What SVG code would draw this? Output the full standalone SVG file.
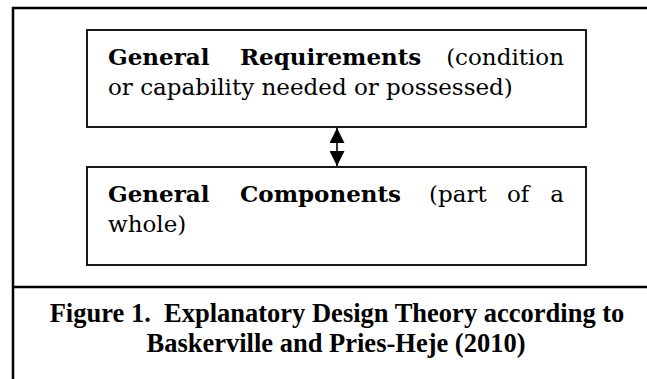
<svg xmlns="http://www.w3.org/2000/svg" width="647" height="379" viewBox="0 0 647 379">
<style>
.frame{fill:none;stroke:#000;stroke-width:2.5}
.box{fill:#fff;stroke:#000;stroke-width:1.8}
.b{font-family:"DejaVu Serif",Georgia,serif;font-size:23px;font-weight:bold;fill:#000}
.r{font-family:"DejaVu Serif",Georgia,serif;font-size:23px;fill:#000}
.cap{font-family:"Liberation Serif","Times New Roman",serif;font-size:26.5px;font-weight:bold;fill:#000;text-anchor:middle;white-space:pre}
.conn{stroke:#000;stroke-width:1.6;fill:none}
</style>
<defs>
<marker id="ah" viewBox="0 0 10 10" refX="10" refY="5" markerWidth="15" markerHeight="15" markerUnits="userSpaceOnUse" orient="auto-start-reverse">
<path d="M0,0 L10,5 L0,10 Z" fill="#000"/>
</marker>
</defs>
<rect width="647" height="379" fill="#fff"/>
<g id="frame">
<path class="frame" d="M13,400 L13,8 L660,8"/>
<line class="frame" x1="13" y1="287" x2="660" y2="287"/>
</g>
<g id="requirements">
<rect class="box" x="87" y="30" width="499" height="97"/>
<text class="b" x="108" y="65">General</text>
<text class="b" x="240" y="65">Requirements</text>
<text class="r" x="564" y="65" text-anchor="end">(condition</text>
<text class="r" x="108" y="95">or capability needed or possessed)</text>
</g>
<g id="components">
<rect class="box" x="87" y="167" width="499" height="98"/>
<text class="b" x="108" y="202">General</text>
<text class="b" x="240" y="202">Components</text>
<text class="r" x="429" y="202">(part</text>
<text class="r" x="507" y="202">of</text>
<text class="r" x="564" y="202" text-anchor="end">a</text>
<text class="r" x="108" y="232">whole)</text>
</g>
<g id="connectors">
<line class="conn" x1="337" y1="128" x2="337" y2="166" marker-start="url(#ah)" marker-end="url(#ah)"/>
</g>
<g id="caption">
<text class="cap" x="337" y="322" xml:space="preserve">Figure 1.  Explanatory Design Theory according to</text>
<text class="cap" x="336" y="352">Baskerville and Pries-Heje (2010)</text>
</g>
</svg>
